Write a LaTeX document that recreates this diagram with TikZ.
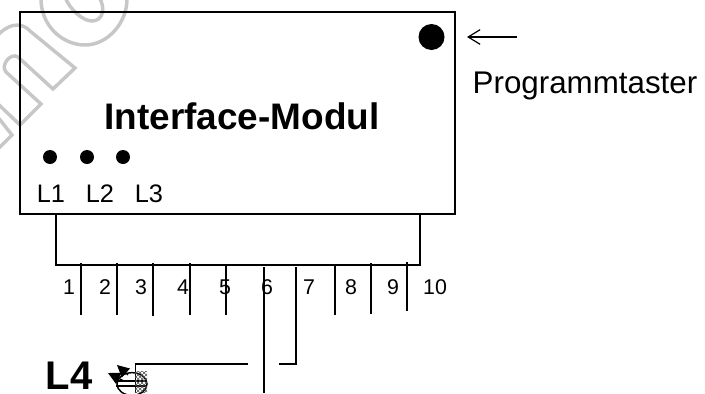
\documentclass[tikz,border=0pt]{standalone}
\usepackage{fontspec}
\setmainfont{Liberation Sans}
\usetikzlibrary{arrows.meta,shapes.geometric,patterns}
\tikzset{
 wire/.style={line width=1.5pt,black},
 wm/.style={line width=2.6pt,draw=black!22,line join=miter},
 num/.style={font=\fontsize{16}{18}\selectfont,inner sep=0pt},
 lab/.style={font=\fontsize{19}{22}\selectfont,inner sep=0pt},
 led/.style={circle,fill=black,inner sep=0pt,minimum size=10.5pt}
}
\begin{document}
\begin{tikzpicture}[x=0.75pt,y=-0.75pt]
\useasboundingbox (0,0) rectangle (705,393);
% watermark
\begin{scope}
\clip (0,0) rectangle (705,393);
\draw[wm] (-2,35) .. controls (6,26) and (20,20) .. (30,31) -- (75,68) -- (53,89) -- (18,57) .. controls (11,52) and (0,65) .. (6,72) -- (41,104) -- (20,125) -- (-3,103);
\draw[wm] (-3,116) -- (12,135) -- (-3,150);
\draw[wm] (41,-3) .. controls (40,25) and (62,45) .. (85,45) .. controls (108,45) and (128,22) .. (127,-3);
\draw[wm] (65,-3) .. controls (70,10) and (83,21) .. (92,21) .. controls (103,21) and (106,8) .. (99,-3);
\end{scope}
% module
\node[draw=black,line width=1.1pt,inner sep=0pt,minimum width=326.25pt,minimum height=151.5pt] (mod) at (237.5,113) {};
\node[font=\bfseries\fontsize{27.7}{32}\selectfont,inner sep=0pt] (title) at (242,116) {Interface-Modul};
\node[led] (d1) at (50,157) {};
\node[led] (d2) at (87,157) {};
\node[led] (d3) at (123,157) {};
\node[lab] (l1) at (51,194) {L1};
\node[lab] (l2) at (100,194) {L2};
\node[lab] (l3) at (149,194) {L3};
\node[circle,fill=black,inner sep=0pt,minimum size=19.5pt] (btn) at (431.5,37) {};
\coordinate (ah) at (467,37);
\coordinate (at) at (517,37);
\draw[line width=0.9pt,-{Straight Barb[length=9pt,width=11pt]}] (at) -- (ah);
\node[font=\fontsize{23.5}{27}\selectfont,inner sep=0pt] (prog) at (585,86) {Programmtaster};
% bus
\coordinate (bl) at (56,214);
\coordinate (blb) at (56,264.5);
\coordinate (brb) at (420,264.5);
\coordinate (br) at (420,214);
\draw[wire,line join=miter] (bl) -- (blb) -- (brb) -- (br);
% pins
\foreach \n/\x/\a/\b in {p1/81/263/315,p2/117/263/315,p3/153/263/316,p4/190/263/315,p5/226/266/315,p8/335/265/315,p9/371/263/314,p10/407/262/311}{
  \coordinate (\n a) at (\x,\a); \coordinate (\n b) at (\x,\b);
  \draw[wire,line width=1.1pt] (\n a) -- (\n b);
}
\foreach \n/\t/\x in {n1/1/69,n2/2/105,n3/3/141,n4/4/183,n5/5/225,n6/6/267,n7/7/309,n8/8/351,n9/9/393,n10/10/435}{
  \node[num] (\n) at (\x,287) {\t};
}
% L4 wiring
\node[font=\bfseries\fontsize{30}{34}\selectfont,inner sep=0pt] (l4) at (69,376) {L4};
\coordinate (p6a) at (264,267); \coordinate (p6b) at (264,393);
\draw[wire] (p6a) -- (p6b);
\coordinate (p7a) at (296,267); \coordinate (p7b) at (296,364); \coordinate (p7c) at (279,364);
\draw[wire] (p7a) -- (p7b) -- (p7c);
\coordinate (la) at (248,364); \coordinate (lb) at (135.5,364); \coordinate (lc) at (135.5,393);
\draw[wire,line width=1.1pt] (la) -- (lb) -- (lc);
% lamp
\node[draw=black,line width=1.1pt,ellipse,inner sep=0pt,minimum width=22.5pt,minimum height=17pt] (lamp) at (132,384) {};
\draw[line width=1.1pt] (lamp.west) ++(0,-3) -- ++(30,0);
\draw[line width=1.1pt] (lamp.west) ++(0,2) -- ++(30,0);
\fill[pattern=crosshatch,pattern color=black!70] (135,371) rectangle (147,392);
\coordinate (h1) at (108,373); \coordinate (h1s) at (124,381);
\coordinate (h2) at (117,365); \coordinate (h2s) at (128,375);
\draw[line width=0.9pt,-{Triangle[length=9pt,width=9pt]}] (h1s) -- (h1);
\draw[line width=0.9pt,-{Triangle[length=9pt,width=9pt]}] (h2s) -- (h2);
\end{tikzpicture}
\end{document}
